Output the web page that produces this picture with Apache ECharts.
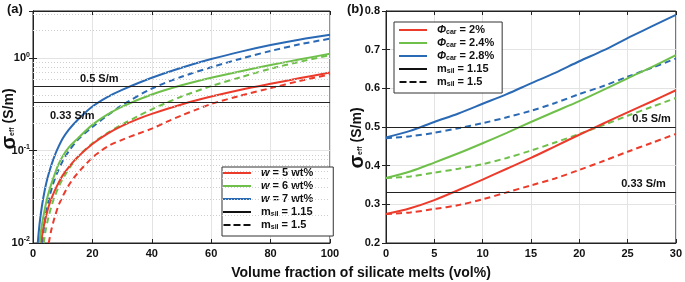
<!DOCTYPE html>
<html>
<head>
<meta charset="utf-8">
<script src="https://cdn.jsdelivr.net/npm/echarts@6/dist/echarts.min.js"></script>
<style>
html, body { margin: 0; padding: 0; background: #fff; }
#chart { width: 685px; height: 282px; }
</style>
</head>
<body>
<div id="chart"></div>
<script>
"use strict";
/* 数据：面板 (a) 体积分数 vs 有效电导率（对数坐标） */
// w = 5 wt%
var xRedSolidA = [2.7, 3.4, 4.3, 5.3, 6.5, 8, 10, 12, 15, 20, 25, 30, 35, 40, 50, 60, 70, 80, 90, 100];
var yRedSolidA = [0.01, 0.014, 0.019, 0.025, 0.032, 0.041, 0.054, 0.066, 0.085, 0.118, 0.152, 0.185, 0.218, 0.25, 0.316, 0.385, 0.457, 0.53, 0.61, 0.7];
var xRedDashA = [5.3, 6.2, 7.2, 8.5, 10, 12, 14, 16, 20, 23, 26, 30, 35, 40, 45, 50, 55, 60, 70, 80, 90, 100];
var yRedDashA = [0.01, 0.014, 0.0185, 0.025, 0.032, 0.042, 0.052, 0.062, 0.084, 0.1, 0.115, 0.131, 0.151, 0.173, 0.205, 0.24, 0.278, 0.32, 0.395, 0.475, 0.57, 0.67];
// w = 6 wt%
var xGreenSolidA = [2.2, 2.9, 3.7, 4.7, 5.7, 7, 8.5, 10, 12, 15, 20, 25, 30, 40, 50, 60, 70, 80, 90, 100];
var yGreenSolidA = [0.01, 0.015, 0.021, 0.03, 0.039, 0.052, 0.07, 0.087, 0.108, 0.135, 0.19, 0.245, 0.3, 0.405, 0.51, 0.615, 0.725, 0.845, 0.975, 1.12];
var xGreenDashA = [3.6, 4.3, 5.2, 6.2, 7.5, 9, 11, 13, 16, 20, 25, 30, 35, 40, 45, 50, 60, 70, 80, 90, 100];
var yGreenDashA = [0.01, 0.014, 0.019, 0.025, 0.033, 0.043, 0.056, 0.07, 0.092, 0.12, 0.155, 0.192, 0.233, 0.28, 0.33, 0.385, 0.5, 0.625, 0.77, 0.92, 1.08];
// w = 7 wt%
var xBlueSolidA = [1.6, 2.2, 3, 4, 5, 6, 7, 8, 10, 12, 15, 20, 25, 30, 40, 50, 60, 70, 80, 90, 100];
var yBlueSolidA = [0.01, 0.016, 0.025, 0.038, 0.052, 0.067, 0.083, 0.1, 0.135, 0.168, 0.215, 0.3, 0.38, 0.455, 0.615, 0.79, 0.98, 1.18, 1.39, 1.6, 1.8];
var xBlueDashA = [3, 3.7, 4.5, 5.5, 6.5, 8, 10, 12, 15, 20, 25, 30, 40, 50, 60, 70, 80, 90, 100];
var yBlueDashA = [0.01, 0.015, 0.022, 0.031, 0.041, 0.056, 0.077, 0.098, 0.13, 0.18, 0.24, 0.31, 0.47, 0.63, 0.8, 0.99, 1.2, 1.42, 1.63];

/* 面板 (b) 0-30 vol% 线性坐标 */
var volB = [0, 2.5, 5, 7.5, 10, 12.5, 15, 17.5, 20, 22.5, 25, 27.5, 30];
var redSolidB = [0.275, 0.29, 0.311, 0.337, 0.364, 0.392, 0.42, 0.45, 0.48, 0.509, 0.538, 0.566, 0.595];
var redDashB = [0.275, 0.279, 0.288, 0.298, 0.313, 0.331, 0.349, 0.367, 0.389, 0.412, 0.436, 0.459, 0.482];
var greenSolidB = [0.368, 0.385, 0.408, 0.432, 0.458, 0.485, 0.513, 0.54, 0.567, 0.596, 0.626, 0.655, 0.686];
var greenDashB = [0.368, 0.372, 0.382, 0.392, 0.404, 0.42, 0.439, 0.46, 0.482, 0.505, 0.529, 0.552, 0.575];
var blueSolidB = [0.473, 0.49, 0.513, 0.535, 0.56, 0.585, 0.613, 0.64, 0.67, 0.698, 0.73, 0.76, 0.79];
var blueDashB = [0.471, 0.476, 0.485, 0.497, 0.51, 0.525, 0.542, 0.562, 0.585, 0.606, 0.63, 0.653, 0.677];

// 参考线 & 次网格
var thresholds = [0.5, 0.33];
var thresholdLabels = ['0.5 S/m', '0.33 S/m'];
var minorGridA = [0.02, 0.03, 0.04, 0.05, 0.06, 0.07, 0.08, 0.09, 0.2, 0.3, 0.4, 0.5, 0.6, 0.7, 0.8, 0.9, 2, 3];

// 图例文字
var legendA = ['w5', 'w6', 'w7', 'm115', 'm15'];
var legendB = ['p2', 'p24', 'p28', 'm115', 'm15'];
var legendText = {
    w5: '{g|}{i|w}{t| = 5 wt%}',
    w6: '{g|}{i|w}{t| = 6 wt%}',
    w7: '{g|}{i|w}{t| = 7 wt%}',
    p2: '{g|}{i|Φ}{s|car}{t| = 2%}',
    p24: '{g|}{i|Φ}{s|car}{t| = 2.4%}',
    p28: '{g|}{i|Φ}{s|car}{t| = 2.8%}',
    m115: '{g|}{t|m}{s|sil}{t| = 1.15}',
    m15: '{g|}{t|m}{s|sil}{t| = 1.5}'
};

var RED = '#ec3a2b', GREEN = '#6fc04a', BLUE = '#2a69b4';
var FONT = '"Liberation Sans Narrow", "Liberation Sans", Arial, sans-serif';
var DASH = [6, 4];
var DASH_ICON = 'path://M0,0h7v2h-7zM10,0h7v2h-7zM20,0h7v2h-7z';

function pairs(xs, ys) {
    return xs.map(function (x, i) { return [x, ys[i]]; });
}

function curve(name, data, color, dashed, axisIdx) {
    return {
        name: name,
        type: 'line',
        xAxisIndex: axisIdx,
        yAxisIndex: axisIdx,
        data: data,
        color: color,
        showSymbol: false,
        symbol: 'none',
        smooth: 0.3,
        clip: true,
        lineStyle: { color: color, width: 2, type: dashed ? DASH : 'solid' },
        z: dashed ? 3 : 4
    };
}

var labelRich = {
    g: { width: 5 },
    i: { fontFamily: FONT, fontSize: 11, fontWeight: 'bold', fontStyle: 'italic', color: '#111' },
    t: { fontFamily: FONT, fontSize: 11, fontWeight: 'bold', color: '#111' },
    s: { fontFamily: FONT, fontSize: 7, fontWeight: 'bold', color: '#111', padding: [5, 0, 0, 0] }
};

function legendOf(names, pos, pad) {
    return {
        orient: 'vertical',
        left: pos[0],
        top: pos[1],
        padding: pad,
        itemGap: 1,
        itemWidth: 28,
        itemHeight: 2,
        selectedMode: false,
        borderColor: '#333',
        borderWidth: 1,
        backgroundColor: '#fff',
        data: names.map(function (n) {
            return { name: n, icon: n === 'm15' ? DASH_ICON : 'rect' };
        }),
        formatter: function (n) { return legendText[n]; },
        textStyle: { lineHeight: 12, rich: labelRich }
    };
}

function tickLabel(extra) {
    return Object.assign({ fontFamily: FONT, fontSize: 11, fontWeight: 'bold', color: '#111' }, extra);
}

function yTitle(x, y) {
    return {
        type: 'text', x: x, y: y, rotation: Math.PI / 2,
        style: {
            text: '{s|σ}{e|eff}{u| (S/m)}', align: 'center', verticalAlign: 'middle',
            rich: {
                s: { fontFamily: FONT, fontSize: 20, fontWeight: 'bold', fill: '#111' },
                e: { fontFamily: FONT, fontSize: 7, fontWeight: 'bold', fill: '#111', padding: [7, 0, 0, 0] },
                u: { fontFamily: FONT, fontSize: 14, fontWeight: 'bold', fill: '#111' }
            }
        }
    };
}

var boxLine = { show: true, lineStyle: { color: '#222', width: 1 } };
var inTick = { show: true, inside: true, length: 4, lineStyle: { color: '#222' } };
var gridLine = { show: true, lineStyle: { color: '#e3e3e3', width: 1 } };

var myChart = echarts.init(document.getElementById('chart'));

var option = {
    animation: false,
    backgroundColor: '#fff',
    grid: [
        { left: 33, top: 11, width: 297, height: 232, show: true, borderColor: '#222', borderWidth: 1 },
        { left: 386, top: 11, width: 296, height: 232, show: true, borderColor: '#222', borderWidth: 1 }
    ],
    xAxis: [
        { gridIndex: 0, type: 'value', min: 0, max: 100, interval: 20, axisLine: boxLine, axisTick: inTick,
          axisLabel: tickLabel({ margin: 5 }), splitLine: gridLine },
        { gridIndex: 0, type: 'value', position: 'top', min: 0, max: 100, interval: 20, axisLine: boxLine,
          axisTick: inTick, axisLabel: { show: false }, splitLine: { show: false } },
        { gridIndex: 1, type: 'value', min: 0, max: 30, interval: 5, axisLine: boxLine, axisTick: inTick,
          axisLabel: tickLabel({ margin: 5 }), splitLine: gridLine },
        { gridIndex: 1, type: 'value', position: 'top', min: 0, max: 30, interval: 5, axisLine: boxLine,
          axisTick: inTick, axisLabel: { show: false }, splitLine: { show: false } }
    ],
    yAxis: [
        { gridIndex: 0, type: 'log', logBase: 10, min: 0.01, max: 3.25, axisLine: boxLine, axisTick: inTick,
          splitLine: gridLine,
          axisLabel: tickLabel({
              margin: 3,
              formatter: function (v) {
                  var e = Math.log10(v);
                  if (Math.abs(e - Math.round(e)) > 1e-6) return '';
                  return '{b|10}{p|' + Math.round(e) + '}';
              },
              rich: {
                  b: { fontFamily: FONT, fontSize: 11, fontWeight: 'bold', color: '#111' },
                  p: { fontFamily: FONT, fontSize: 7, fontWeight: 'bold', color: '#111', padding: [0, 0, 7, 0] }
              }
          }) },
        { gridIndex: 0, type: 'log', logBase: 10, min: 0.01, max: 3.25, position: 'right', axisLine: boxLine,
          axisTick: inTick, axisLabel: { show: false }, splitLine: { show: false } },
        { gridIndex: 1, type: 'value', min: 0.2, max: 0.8, interval: 0.1, axisLine: boxLine, axisTick: inTick,
          splitLine: gridLine,
          axisLabel: tickLabel({ margin: 6, formatter: function (v) { return v.toFixed(1); } }) },
        { gridIndex: 1, type: 'value', min: 0.2, max: 0.8, interval: 0.1, position: 'right', axisLine: boxLine,
          axisTick: inTick, axisLabel: { show: false }, splitLine: { show: false } }
    ],
    legend: [
        legendOf(legendA, [222, 167], [0, 20, 5, 1]),
        legendOf(legendB, [394, 22], [2, 8, 5, 5])
    ],
    graphic: [
        { type: 'text', left: 7, top: 3, style: { text: '(a)', font: 'bold 13px ' + FONT, fill: '#111' } },
        { type: 'text', left: 347, top: 3, style: { text: '(b)', font: 'bold 13px ' + FONT, fill: '#111' } },
        yTitle(9, 119),
        yTitle(357, 138),
        { type: 'text', x: 361, y: 273,
          style: { text: 'Volume fraction of silicate melts (vol%)', align: 'center', verticalAlign: 'middle',
                   font: 'bold 14px ' + FONT, fill: '#111' } }
    ],
    series: [
        // 次网格（点线）
        { type: 'line', xAxisIndex: 0, yAxisIndex: 0, data: [], silent: true,
          markLine: { silent: true, symbol: ['none', 'none'], label: { show: false },
                      lineStyle: { color: '#cfcfcf', type: [1, 2], width: 1 },
                      data: minorGridA.map(function (v) { return { yAxis: v }; }) } },
        // 参考线 (a)
        { type: 'line', xAxisIndex: 0, yAxisIndex: 0, data: [], silent: true, z: 5,
          markLine: { silent: true, symbol: ['none', 'none'],
                      lineStyle: { color: '#222', type: 'solid', width: 1.2 },
                      label: { fontFamily: FONT, fontSize: 11, fontWeight: 'bold', color: '#111' },
                      data: [
                          { yAxis: thresholds[0], label: { formatter: thresholdLabels[0], position: 'insideStartTop', distance: [47, 2] } },
                          { yAxis: thresholds[1], label: { formatter: thresholdLabels[1], position: 'insideStartBottom', distance: [17, 8] } }
                      ] } },
        // 参考线 (b)
        { type: 'line', xAxisIndex: 2, yAxisIndex: 2, data: [], silent: true, z: 5,
          markLine: { silent: true, symbol: ['none', 'none'],
                      lineStyle: { color: '#222', type: 'solid', width: 1.2 },
                      label: { fontFamily: FONT, fontSize: 11, fontWeight: 'bold', color: '#111' },
                      data: [
                          { yAxis: thresholds[0], label: { formatter: thresholdLabels[0], position: 'insideEndTop', distance: [5, 3] } },
                          { yAxis: thresholds[1], label: { formatter: thresholdLabels[1], position: 'insideEndTop', distance: [10, 3] } }
                      ] } },
        curve('w5d', pairs(xRedDashA, yRedDashA), RED, true, 0),
        curve('w6d', pairs(xGreenDashA, yGreenDashA), GREEN, true, 0),
        curve('w7d', pairs(xBlueDashA, yBlueDashA), BLUE, true, 0),
        curve('w5', pairs(xRedSolidA, yRedSolidA), RED, false, 0),
        curve('w6', pairs(xGreenSolidA, yGreenSolidA), GREEN, false, 0),
        curve('w7', pairs(xBlueSolidA, yBlueSolidA), BLUE, false, 0),
        curve('p2d', pairs(volB, redDashB), RED, true, 2),
        curve('p24d', pairs(volB, greenDashB), GREEN, true, 2),
        curve('p28d', pairs(volB, blueDashB), BLUE, true, 2),
        curve('p2', pairs(volB, redSolidB), RED, false, 2),
        curve('p24', pairs(volB, greenSolidB), GREEN, false, 2),
        curve('p28', pairs(volB, blueSolidB), BLUE, false, 2),
        // 图例用的黑线
        curve('m115', [], '#111', false, 0),
        curve('m15', [], '#111', true, 0)
    ]
};
myChart.setOption(option);

window.onresize = function () {
    myChart.resize();
};
</script>
</body>
</html>
